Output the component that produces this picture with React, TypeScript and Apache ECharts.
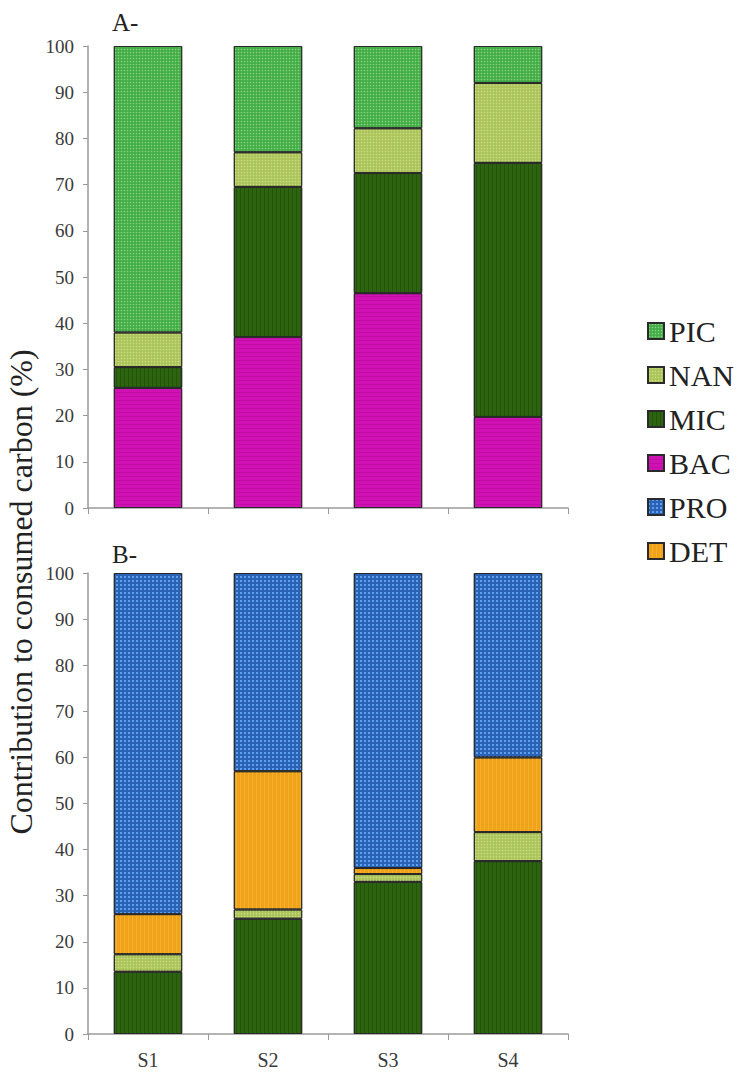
import React, { useEffect, useRef } from "react";
import * as echarts from "echarts";

const categories = ["S1", "S2", "S3", "S4"];

// Panel A (stack order bottom -> top)
const A_BAC = [26, 37, 46.5, 19.7];
const A_MIC = [4.5, 32.5, 26, 55];
const A_NAN = [7.5, 7.5, 9.7, 17.3];
const A_PIC = [62, 23, 17.8, 8];

// Panel B (stack order bottom -> top)
const B_MIC = [13.5, 25, 33, 37.5];
const B_NAN = [3.8, 2, 1.7, 6.3];
const B_DET = [8.7, 30, 1.3, 16.2];
const B_PRO = [74, 43, 64, 40];

const legendNames = ["PIC", "NAN", "MIC", "BAC", "PRO", "DET"];
const yTicks = [0, 10, 20, 30, 40, 50, 60, 70, 80, 90, 100];

const COLORS: Record<string, string> = {
  PIC: "#42ad46",
  NAN: "#abc45a",
  MIC: "#2d6410",
  BAC: "#d012b4",
  PRO: "#2a63b6",
  DET: "#f0a318",
};

const DECALS: Record<string, any> = {
  PIC: { symbol: "circle", symbolSize: 0.5, color: "rgba(190,240,170,0.55)", dashArrayX: [3, 0], dashArrayY: [3, 0] },
  NAN: { symbol: "circle", symbolSize: 0.5, color: "rgba(235,245,170,0.5)", dashArrayX: [3, 0], dashArrayY: [3, 0] },
  MIC: { symbol: "rect", symbolSize: 1, color: "rgba(20,50,0,0.35)", dashArrayX: [1, 3], dashArrayY: [4, 0] },
  BAC: { symbol: "rect", symbolSize: 1, color: "rgba(150,0,120,0.25)", dashArrayX: [4, 0], dashArrayY: [1, 3] },
  PRO: { symbol: "rect", symbolSize: 1, color: "rgba(110,180,255,0.75)", dashArrayX: [2, 2], dashArrayY: [2, 2] },
  DET: { symbol: "rect", symbolSize: 1, color: "rgba(255,200,90,0.35)", dashArrayX: [1, 3], dashArrayY: [4, 0] },
};

const FONT = "Times New Roman, Liberation Serif, Tinos, serif";

function bar(name: string, data: number[], idx: number, stack: string) {
  return {
    name,
    type: "bar",
    stack,
    xAxisIndex: idx,
    yAxisIndex: idx,
    data,
    barWidth: "57%",
    itemStyle: {
      color: COLORS[name],
      borderColor: "#2a2a2a",
      borderWidth: 1,
      decal: DECALS[name],
    },
    emphasis: { disabled: true },
  };
}

export default function App() {
  const ref = useRef<HTMLDivElement>(null);
  useEffect(() => {
    if (!ref.current) return;
    const chart = echarts.init(ref.current, null, { renderer: "svg" });
    const yAxisCommon = {
      type: "value",
      min: 0,
      max: 100,
      interval: 10,
      axisLine: { show: true, lineStyle: { color: "#9a9a9a", width: 1.5 } },
      axisTick: { show: true, length: 5, lineStyle: { color: "#9a9a9a" } },
      splitLine: { show: false },
      axisLabel: {
        color: "#3a3a3a",
        fontFamily: FONT,
        fontSize: 19,
        margin: 14,
        formatter: (v: number) => (yTicks.includes(v) ? String(v) : ""),
      },
    };
    const xAxisCommon = {
      type: "category",
      data: categories,
      axisLine: { show: true, lineStyle: { color: "#9a9a9a", width: 1.5 } },
      axisTick: { show: true, length: 6, alignWithLabel: false, lineStyle: { color: "#9a9a9a" } },
      splitLine: { show: false },
    };
    chart.setOption({
      animation: false,
      backgroundColor: "#ffffff",
      grid: [
        { left: 88, top: 46, width: 480, height: 462 },
        { left: 88, top: 573, width: 480, height: 461 },
      ],
      xAxis: [
        { ...xAxisCommon, gridIndex: 0, axisLabel: { show: false } },
        {
          ...xAxisCommon,
          gridIndex: 1,
          axisLabel: { show: true, color: "#3a3a3a", fontFamily: FONT, fontSize: 20, margin: 16 },
        },
      ],
      yAxis: [
        { ...yAxisCommon, gridIndex: 0 },
        { ...yAxisCommon, gridIndex: 1 },
      ],
      legend: {
        data: legendNames,
        orient: "vertical",
        left: 642,
        top: 311,
        itemWidth: 16,
        itemHeight: 16,
        itemGap: 14,
        icon: "rect",
        selectedMode: false,
        textStyle: { fontFamily: FONT, fontSize: 30, color: "#222", lineHeight: 30 },
      },
      graphic: [
        {
          type: "text",
          left: 112,
          top: 10,
          style: { text: "A-", fontFamily: FONT, fontSize: 25, fill: "#222" },
        },
        {
          type: "text",
          left: 112,
          top: 542,
          style: { text: "B-", fontFamily: FONT, fontSize: 25, fill: "#222" },
        },
        {
          type: "text",
          x: 21,
          y: 592,
          rotation: Math.PI / 2,
          style: {
            text: "Contribution to consumed carbon (%)",
            fontFamily: FONT,
            fontSize: 32,
            fill: "#222",
            textAlign: "center",
            textVerticalAlign: "middle",
          },
        },
      ],
      series: [
        bar("BAC", A_BAC, 0, "a"),
        bar("MIC", A_MIC, 0, "a"),
        bar("NAN", A_NAN, 0, "a"),
        bar("PIC", A_PIC, 0, "a"),
        bar("MIC", B_MIC, 1, "b"),
        bar("NAN", B_NAN, 1, "b"),
        bar("DET", B_DET, 1, "b"),
        bar("PRO", B_PRO, 1, "b"),
      ],
    });
    return () => chart.dispose();
  }, []);
  return (
    <div
      ref={ref}
      style={{ position: "absolute", left: 0, top: 0, width: 736, height: 1072, background: "#fff" }}
    />
  );
}
